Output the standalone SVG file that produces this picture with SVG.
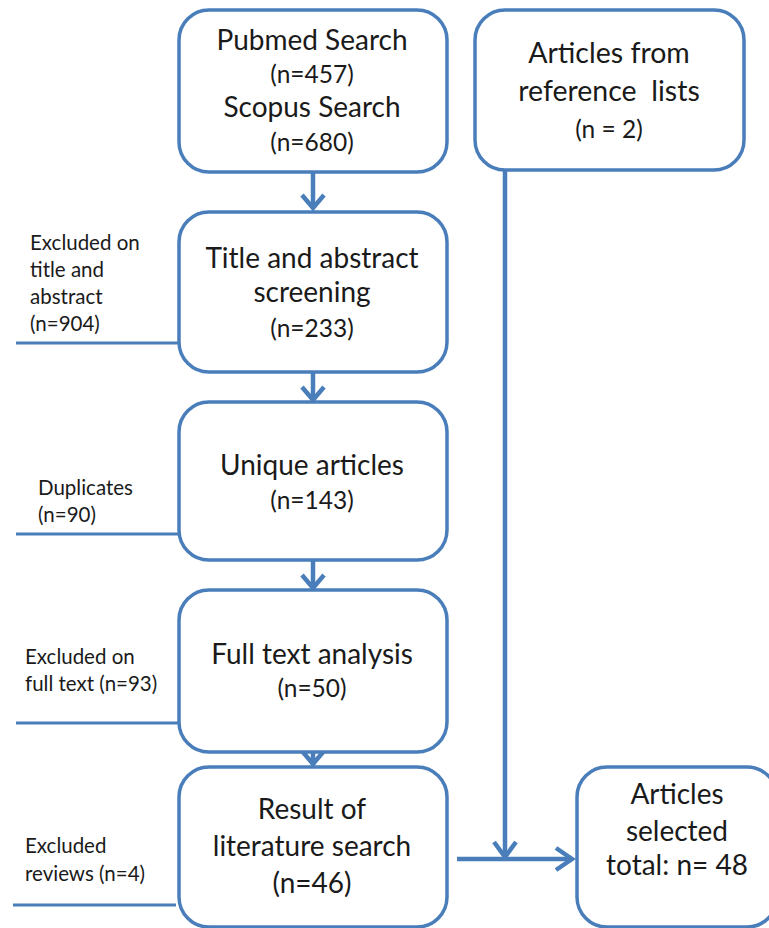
<svg xmlns="http://www.w3.org/2000/svg" width="769" height="928" viewBox="0 0 769 928">
<defs>
<style>
.box{fill:#fff;stroke:#4a7ebb;stroke-width:3.5}
.ln{fill:none;stroke:#4a7ebb;stroke-width:3}
.thick{fill:none;stroke:#4a7ebb;stroke-width:4.5}
.t{font-family:Lato,"Liberation Sans",sans-serif;fill:#1a1a1a;text-anchor:middle}
.big{font-size:28px}
.mid{font-size:24.5px}
.sm{font-size:20.5px;font-family:Lato,"Liberation Sans",sans-serif;fill:#1a1a1a}
</style>
</defs>
<g id="connectors">
<path class="thick" d="M313,172 V208"/>
<path class="thick" d="M302,195 L313,208 L324,195"/>
<path class="thick" d="M313,372 V400"/>
<path class="thick" d="M302,387 L313,400 L324,387"/>
<path class="thick" d="M313,560 V588"/>
<path class="thick" d="M302,575 L313,588 L324,575"/>
<path class="thick" d="M313,740 V765"/>
<path class="thick" d="M302,751 L313,764 L324,751"/>
<path class="thick" d="M505,171 V857"/>
<path class="thick" d="M494,842 L505,857 L516,842"/>
<path class="thick" d="M457,859 H572"/>
<path class="thick" d="M556,848 L572,859 L556,870"/>
<path class="ln" d="M16,343 H179"/>
<path class="ln" d="M16,534 H179"/>
<path class="ln" d="M16,723 H179"/>
<path class="ln" d="M13,905 H176"/>
</g>
<g id="n1">
<rect class="box" x="179" y="10" width="268" height="162" rx="30"/>
<text class="t big" x="312" y="50">Pubmed Search</text>
<text class="t mid" x="312" y="83">(n=457)</text>
<text class="t big" x="312" y="117">Scopus Search</text>
<text class="t mid" x="312" y="151">(n=680)</text>
</g>
<g id="n2">
<rect class="box" x="179" y="212" width="268" height="160" rx="30"/>
<text class="t big" x="312" y="268">Title and abstract</text>
<text class="t big" x="312" y="302">screening</text>
<text class="t mid" x="312" y="337">(n=233)</text>
</g>
<g id="n3">
<rect class="box" x="179" y="402" width="268" height="158" rx="30"/>
<text class="t big" x="312" y="475">Unique articles</text>
<text class="t mid" x="312" y="509">(n=143)</text>
</g>
<g id="n4">
<rect class="box" x="179" y="590" width="268" height="162" rx="30"/>
<text class="t big" x="312" y="664">Full text analysis</text>
<text class="t mid" x="312" y="697">(n=50)</text>
</g>
<g id="n5">
<rect class="box" x="179" y="767" width="268" height="160" rx="30"/>
<text class="t big" x="312" y="819">Result of</text>
<text class="t big" x="312" y="856">literature search</text>
<text class="t big" x="312" y="893">(n=46)</text>
</g>
<g id="n6">
<rect class="box" x="475" y="10" width="269" height="160" rx="30"/>
<text class="t big" x="609" y="63" style="font-size:28.5px">Articles from</text>
<text class="t big" x="609" y="101" style="font-size:28.5px" xml:space="preserve">reference  lists</text>
<text class="t mid" x="609" y="138">(n = 2)</text>
</g>
<g id="n7">
<rect class="box" x="577" y="767" width="200" height="160" rx="30"/>
<text class="t big" x="677" y="804">Articles</text>
<text class="t big" x="677" y="841">selected</text>
<text class="t big" x="677" y="875">total: n= 48</text>
</g>
<g id="labels">
<text class="sm" x="30" y="250">Excluded on</text>
<text class="sm" x="30" y="277">title and</text>
<text class="sm" x="30" y="304">abstract</text>
<text class="sm" x="30" y="331">(n=904)</text>
<text class="sm" x="38" y="495">Duplicates</text>
<text class="sm" x="38" y="522">(n=90)</text>
<text class="sm" x="25" y="664">Excluded on</text>
<text class="sm" x="25" y="691">full text (n=93)</text>
<text class="sm" x="25" y="853">Excluded</text>
<text class="sm" x="25" y="881">reviews (n=4)</text>
</g>
</svg>
